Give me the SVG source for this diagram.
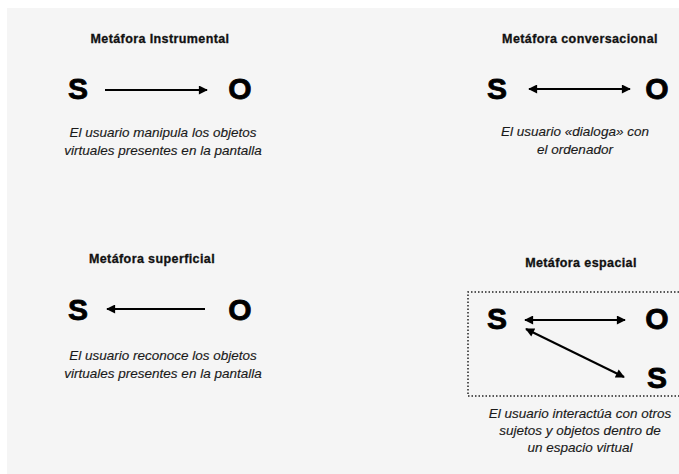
<svg xmlns="http://www.w3.org/2000/svg" width="679" height="474" viewBox="0 0 679 474">
<defs>
<style>
.title{font-family:"Liberation Sans",Arial,sans-serif;font-weight:bold;font-size:12.5px;letter-spacing:0.4px;fill:#111;stroke:#111;stroke-width:0.3;text-anchor:middle}
.big{font-family:"Liberation Sans",Arial,sans-serif;font-weight:bold;font-size:30px;fill:#000;stroke:#000;stroke-width:0.8;text-anchor:middle}
.desc{font-family:"Liberation Sans",Arial,sans-serif;font-style:italic;font-size:13.5px;fill:#1a1a1a;stroke:#1a1a1a;stroke-width:0.15;text-anchor:middle}
.conn{stroke:#000;stroke-width:2;fill:none}
</style>
<marker id="ah" viewBox="0 0 10 10" refX="9" refY="5" markerWidth="5" markerHeight="4.5" orient="auto-start-reverse" markerUnits="strokeWidth">
<path d="M0,0 L10,5 L0,10 Z" fill="#000"/>
</marker>
</defs>
<rect x="0" y="0" width="679" height="474" fill="#fff"/>
<rect x="7" y="8" width="672" height="466" fill="#f5f5f5"/>

<g id="instrumental">
<text class="title" x="160" y="43">Metáfora Instrumental</text>
<text class="big" x="78" y="99">S</text>
<text class="big" x="240" y="99">O</text>
<text class="desc" x="163" y="137">El usuario manipula los objetos</text>
<text class="desc" x="163" y="155">virtuales presentes en la pantalla</text>
</g>

<g id="conversacional">
<text class="title" x="580" y="43">Metáfora conversacional</text>
<text class="big" x="497" y="99">S</text>
<text class="big" x="657" y="99">O</text>
<text class="desc" x="575" y="136">El usuario «dialoga» con</text>
<text class="desc" x="575" y="154">el ordenador</text>
</g>

<g id="superficial">
<text class="title" x="152" y="263">Metáfora superficial</text>
<text class="big" x="78" y="320">S</text>
<text class="big" x="240" y="320">O</text>
<text class="desc" x="163" y="360">El usuario reconoce los objetos</text>
<text class="desc" x="163" y="378">virtuales presentes en la pantalla</text>
</g>

<g id="espacial">
<text class="title" x="581" y="267">Metáfora espacial</text>
<path d="M679,292 H468 V396 H679" fill="none" stroke="#222" stroke-width="1.5" stroke-dasharray="1.5,2"/>
<text class="big" x="497" y="329">S</text>
<text class="big" x="657" y="329">O</text>
<text class="big" x="657" y="388">S</text>
<text class="desc" x="580" y="418">El usuario interactúa con otros</text>
<text class="desc" x="580" y="435">sujetos y objetos dentro de</text>
<text class="desc" x="580" y="452">un espacio virtual</text>
</g>

<g id="connectors">
<line class="conn" x1="105" y1="90" x2="207" y2="90" marker-end="url(#ah)"/>
<line class="conn" x1="529" y1="89" x2="630" y2="89" marker-start="url(#ah)" marker-end="url(#ah)"/>
<line class="conn" x1="107" y1="309" x2="205" y2="309" marker-start="url(#ah)"/>
<line class="conn" x1="525" y1="320" x2="625" y2="320" marker-start="url(#ah)" marker-end="url(#ah)"/>
<line class="conn" x1="526" y1="329" x2="624" y2="377" marker-start="url(#ah)" marker-end="url(#ah)"/>
</g>
</svg>
